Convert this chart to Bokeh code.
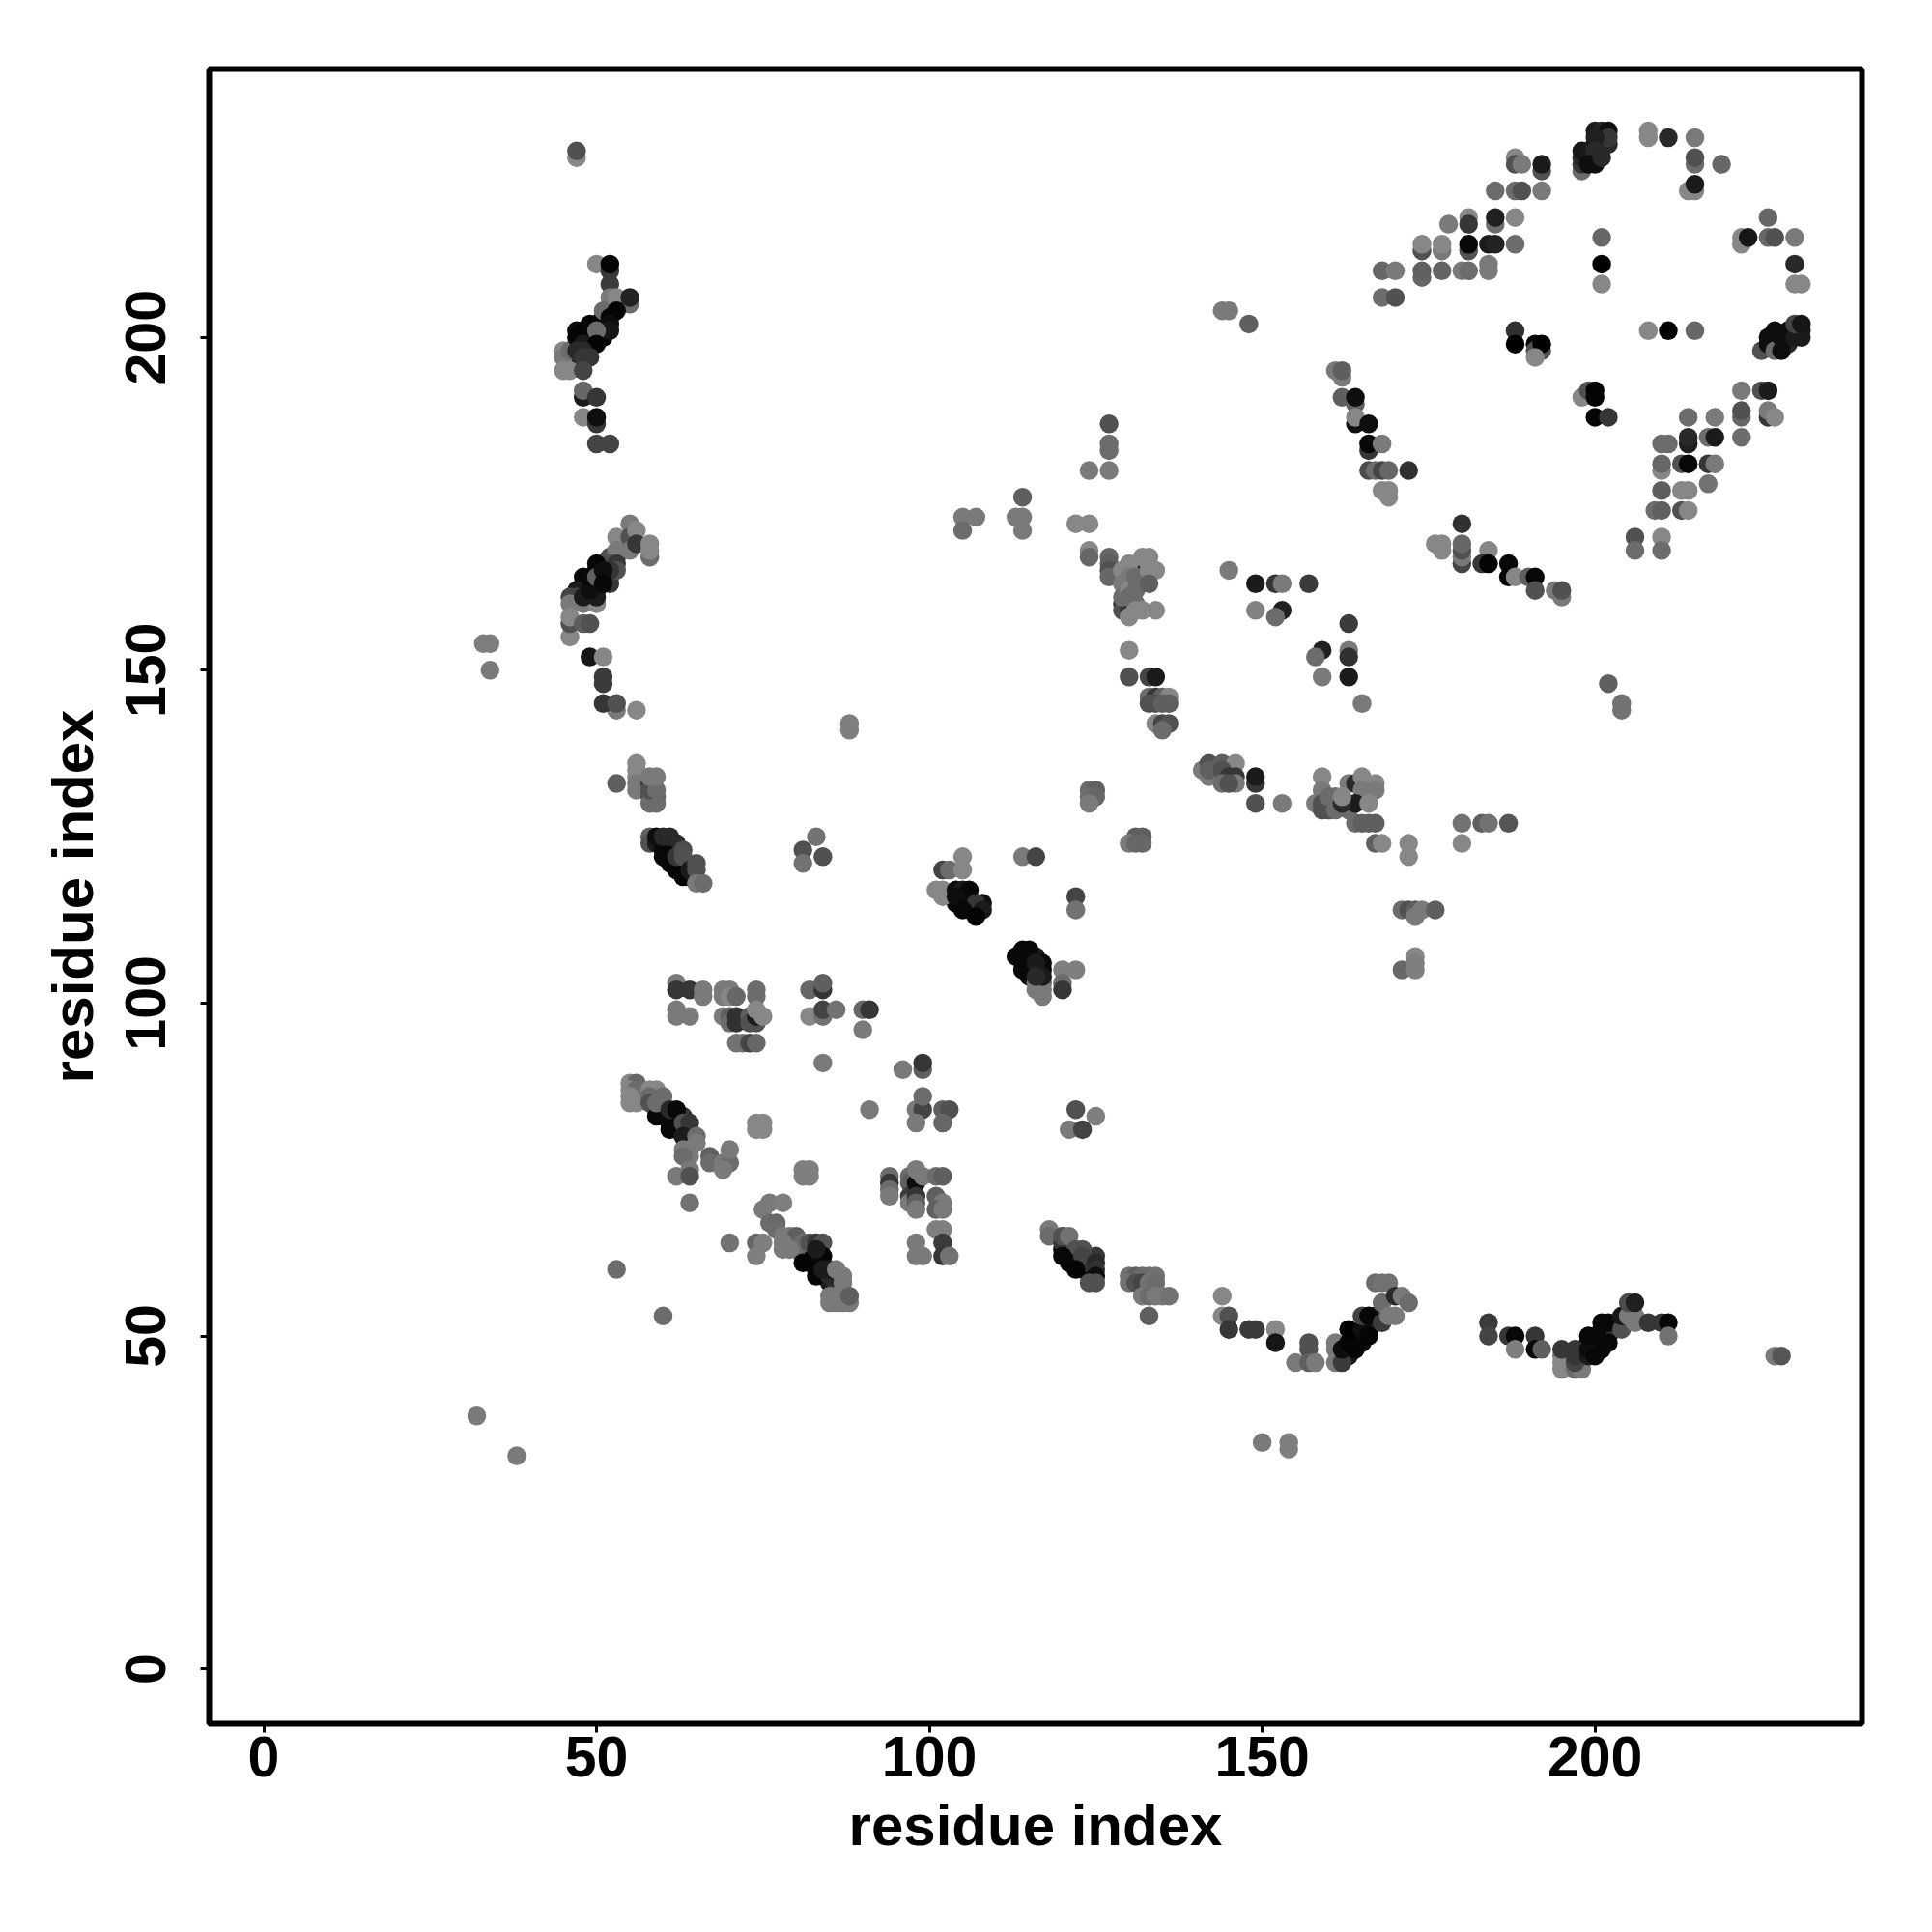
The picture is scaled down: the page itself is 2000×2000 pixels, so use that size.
from bokeh.plotting import figure
from bokeh.models import ColumnDataSource, FixedTicker, Range1d
from bokeh.embed import file_html
from bokeh.resources import INLINE

# each entry: residue i, residue j, shade (0 black .. 0.5 mid grey)
stray = [(47,227,.5),(47,228,.3),(32,38,.45),(38,32,.45),(33,154,.47),(34,154,.47),(34,150,.45),
         (88,142,.47),(88,141,.47),(53,133,.35),(53,60,.4),(60,53,.4),(150,34,.45),(154,34,.47),(154,33,.47),
         (202,148,.35),(204,145,.42),(204,144,.42),(144,204,.45),(145,204,.45),(148,202,.35),
         (227,47,.45),(228,47,.32),(81,123,.3),(81,121,.42),(83,125,.42),(84,122,.3),
         (105,173,.45),(105,171,.4),(107,173,.45),(114,176,.35),(113,173,.45),(114,173,.45),(114,171,.45),
         (122,172,.5),(124,172,.5),(124,180,.45),(127,180,.45),(127,187,.3),(127,184,.4),(127,183,.4),
         (124,168,.5),(124,167,.38),(145,165,.45)]
band_strand = [(47,199,.02),(47,201,.05),(48,200,.02),(48,201,.02),(49,200,.02),(49,199,.1),(49,201,.02),(50,200,.03),(50,202,.05),
               (51,201,.03),(51,202,.03),(51,203,.03),(51,200,.02),(47,197,.1),
               (48,163,.03),(48,162,.05),(48,164,.03),(49,163,.03),(50,162,.03),(50,163,.03),(50,165,.03),(51,164,.03),(51,166,.1),
               (52,164,.1),(52,167,.2),(53,167,.15),(47,162,.1),(49,161,.1),(52,163,.2),
               (60,124,.03),(61,124,.05),(61,123,.02),(61,122,.02),(61,121,.03),(62,121,.02),(63,120,.03),(64,119,.05),(62,123,.2),(62,124,.15)]
band_diag = [(60,84,.03),(60,83,.02),(61,82,.03),(62,82,.02),(62,81,.02),(63,81,.05),(63,83,.2),(59,84,.03),(61,83,.03),(64,80,.1),
             (82,62,.02),(82,61,.03),(83,61,.05),(84,59,.1),(85,58,.1),(86,58,.2),(81,62,.03),(83,60,.02),
             (120,63,.03),(121,62,.03),(122,61,.03),(123,60,.03),(124,60,.03),(121,63,.2),(122,62,.2),(123,61,.2),(124,61,.2),(125,62,.2)]
band_centre = [(105,116,.03),(106,116,.03),(106,115,.03),(105,115,.03),(107,114,.03),(106,114,.05),(104,115,.03),
               (114,107,.03),(114,106,.05),(115,107,.05),(115,106,.03),(115,105,.03),(116,105,.03),(116,107,.1),(117,105,.03),(115,104,.05)]
band_bottom = [(164,50,.05),(165,49,.05),(165,50,.02),(164,49,.03),(163,48,.05),(163,47,.1),(162,47,.1),(166,51,.05),(167,52,.1),(167,53,.15),
               (198,47,.1),(198,48,.1),(199,49,.05),(200,48,.03),(200,49,.03),(201,48,.03),(201,50,.03),(201,51,.03),(202,51,.03),(200,50,.03),(202,50,.03),(203,51,.2)]
band_ring = [(199,227,.08),(200,229,.1),(201,230,.1),(201,229,.1),(202,229,.15),(200,226,.05),
             (229,200,.1),(229,199,.15),(228,199,.05),(226,200,.05),(227,199,.1),(229,201,.05),(230,201,.1),(231,201,.1)]
strand_top = [(50,211,.5),(52,210,.2),(52,211,.02),(52,208,.22),(52,206,.45),(53,206,.5),(53,205,.5),
              (55,205,.4),(55,206,.13),(51,204,.4),(53,204,.02),(52,203,.02),(49,202,.02),(52,202,.05),
              (52,201,.08),(50,201,.4),(45,198,.5),(45,197,.45),(45,195,.5),(46,195,.5),(46,198,.4),
              (47,200,.02),(48,199,.1),(50,199,.02),(48,198,.15),(47,198,.15),(48,197,.2),(49,197,.2),(48,195,.25),
              (48,191,.1),(48,192,.38),(50,191,.2),(48,188,.5),(50,187,.2),(50,188,.05),(50,184,.25),(52,184,.25)]
strand_mid = [(52,167,.3),(53,170,.5),(55,172,.45),(55,170,.3),(55,168,.45),(53,168,.45),(56,171,.5),(56,169,.2),
              (58,167,.4),(58,168,.5),(58,169,.5),(52,166,.3),(53,166,.2),(53,165,.3),(52,165,.2),
              (46,161,.25),(47,161,.25),(48,160,.45),(46,160,.45),(50,160,.5),(48,161,.1),(50,161,.1),(49,162,.05),
              (49,164,.03),(50,166,.02),(50,164,.35),(51,165,.05),(51,163,.03),
              (46,155,.5),(46,157,.3),(46,158,.5),(48,157,.35),(49,157,.3),(49,152,.08),(51,152,.5),
              (51,149,.22),(51,148,.22),(53,144,.45),(51,145,.2),(53,145,.3),(56,144,.5)]
strand_low = [(56,136,.5),(56,135,.5),(56,134,.5),(56,133,.45),(56,132,.45),(58,131,.3),(59,131,.35),(58,130,.4),(59,130,.4),
              (58,133,.2),(58,132,.3),(59,132,.4),(58,134,.45),(59,134,.45),
              (58,125,.35),(58,124,.3),(59,124,.1),(60,123,.03),(60,122,.03),(59,125,.05),(60,125,.15),(61,125,.15),
              (62,120,.02),(63,119,.02),(62,122,.2),(63,123,.28),(63,122,.3),(64,120,.1),(65,120,.3),(65,121,.3),(65,118,.45),(66,118,.4)]
upper_block = [(62,103,.45),(62,102,.2),(64,102,.2),(66,102,.45),(66,101,.45),(69,102,.45),(70,102,.45),(69,101,.45),(70,101,.5),(71,101,.38),
               (74,102,.4),(74,101,.4),(62,99,.45),(62,98,.45),(64,98,.45),(69,98,.45),(70,98,.35),(70,97,.4),(71,98,.18),(71,97,.18),
               (73,98,.35),(73,97,.3),(74,97,.3),(74,98,.1),(75,98,.5),(74,99,.5),
               (71,94,.42),(72,94,.42),(73,94,.25),(74,94,.38),
               (82,102,.38),(84,102,.2),(84,103,.35),(82,98,.5),(84,98,.42),(84,99,.25),(86,99,.42),(90,99,.38),(91,99,.2),(90,96,.45),
               (84,91,.45),(96,90,.45),(99,90,.35),(99,91,.2),(91,84,.45),(98,84,.45),(99,84,.25),(99,86,.4),(102,84,.35),(103,84,.3),(98,82,.45),(102,82,.38)]
diag_one = [(55,88,.5),(56,88,.38),(55,87,.5),(56,87,.4),(55,86,.5),(55,85,.5),(56,85,.5),(58,87,.5),(59,87,.5),(58,86,.4),(60,86,.4),(58,85,.3),
            (59,83,.03),(59,85,.4),(61,84,.15),(61,81,.03),(62,84,.03),(63,82,.3),(64,82,.2),(63,80,.1),(65,80,.4),(65,79,.45),(63,78,.45),(64,78,.45),
            (64,77,.45),(63,77,.4),(67,77,.35),(67,76,.4),(69,76,.45),(70,76,.4),(70,78,.45),(69,75,.45),(62,74,.45),(64,75,.45),(64,74,.3),(64,70,.42),
            (74,82,.5),(75,82,.5),(74,81,.5),(75,81,.5),(81,75,.47),(82,75,.47),(81,74,.47),(82,74,.47)]
diag_two = [(76,70,.45),(78,70,.47),(75,69,.45),(76,67,.4),(77,67,.38),(70,64,.42),(74,64,.38),(75,64,.47),(74,62,.47),
            (77,66,.4),(78,65,.45),(79,65,.45),(80,65,.35),(81,64,.4),(80,63,.4),(79,63,.45),(78,64,.45),(78,63,.45),
            (82,64,.3),(83,64,.2),(84,64,.3),(84,62,.02),(81,61,.02),(83,59,.02),(83,63,.1),(85,59,.15),(85,60,.1),(84,60,.1),
            (86,60,.45),(87,59,.45),(87,58,.45),(85,56,.45),(86,56,.45),(85,55,.45),(86,55,.45),(87,55,.45),(88,55,.45),(88,56,.35)]
side_block = [(94,74,.4),(94,73,.2),(94,72,.4),(94,71,.45),(97,74,.4),(97,73,.35),(97,71,.22),(97,70,.45),(98,73,.05),(98,75,.45),(99,74,.45),
              (98,71,.2),(98,70,.35),(98,69,.45),(101,74,.4),(102,74,.35),(101,71,.35),(102,70,.45),(101,69,.35),(102,69,.45),
              (101,66,.47),(102,66,.47),(102,64,.22),(98,64,.45),(98,62,.45),(99,62,.45),(102,62,.2),(103,62,.42),
              (122,84,.3),(125,83,.47),(121,81,.45),(123,81,.25)]
centre_low = [(105,122,.5),(102,120,.25),(103,120,.4),(105,120,.5),(101,117,.5),(102,117,.5),(102,116,.5),(104,117,.05),(105,117,.1),(106,117,.03),
              (104,116,.05),(108,115,.05),(107,115,.2),(105,114,.03),(108,114,.1),(107,113,.02),
              (114,122,.45),(116,122,.25),(122,116,.25),(122,114,.42),
              (116,103,.45),(117,103,.4),(116,102,.45),(117,102,.45),(117,101,.45),(114,108,.03),(115,108,.03),(113,107,.03),(114,105,.03),
              (117,106,.03),(116,106,.1),(117,104,.1),(116,104,.15),(120,105,.47),(122,105,.47),(120,103,.4),(120,102,.2),
              (118,66,.45),(118,65,.4),(120,64,.2),(120,65,.3),(121,65,.42),(122,63,.3),(123,63,.3),(120,62,.03),(121,61,.03),(123,62,.25),
              (125,61,.15),(122,60,.02),(125,60,.18),(125,59,.05),(124,58,.3),(125,58,.3)]
centre_mid = [(127,167,.38),(127,166,.35),(127,165,.3),(127,164,.38),(129,160,.2),(129,159,.3),(130,159,.2),(131,160,.4),(132,165,.15),(131,163,.15),
              (129,165,.5),(129,163,.45),(129,161,.4),(130,166,.5),(130,164,.45),(130,162,.5),(130,161,.4),(130,158,.5),(131,164,.4),(131,162,.4),(131,159,.5),
              (132,167,.5),(133,167,.5),(133,165,.5),(134,165,.5),(133,163,.35),(132,159,.5),(134,159,.5),
              (130,153,.5),(130,149,.3),(133,149,.25),(134,149,.1),(133,146,.4),(134,146,.2),(135,146,.35),(136,146,.5),(133,145,.3),(134,145,.3),(135,145,.35),(136,145,.35),
              (134,142,.5),(135,142,.25),(136,142,.3),(135,141,.4),
              (149,163,.1),(152,163,.2),(153,163,.45),(157,163,.22),(149,159,.48),(153,159,.12),(152,158,.4),(163,157,.22),(159,153,.12),(163,153,.45),(158,152,.4),(163,152,.18),(159,149,.45),(163,149,.1),(165,145,.45)]
centre_pair = [(124,132,.4),(125,132,.35),(124,131,.4),(125,131,.38),(124,130,.45),(131,125,.35),(132,125,.35),(130,124,.45),(131,124,.38),(132,124,.38),
               (141,135,.45),(142,136,.3),(142,134,.45),(142,135,.35),(144,136,.35),(146,136,.5),(144,135,.3),(146,134,.2),(145,134,.2),(144,133,.4),(146,133,.45),(145,133,.3),
               (149,133,.2),(149,134,.1),(149,130,.3),(153,130,.45)]
centre_high = [(159,134,.5),(159,132,.45),(158,130,.45),(159,130,.3),(159,129,.3),(160,129,.3),(161,129,.4),(160,131,.4),(161,131,.4),(163,133,.45),(163,129,.4),
               (164,133,.15),(165,134,.5),(167,133,.5),(167,132,.45),(165,132,.45),(164,130,.1),(166,130,.5),(162,130,.15),(162,131,.5),
               (164,127,.4),(165,127,.35),(166,127,.35),(167,127,.35),(167,124,.35),(168,124,.5),(172,124,.5),(172,122,.5),
               (180,127,.42),(183,127,.35),(184,127,.42),(187,127,.32),(180,124,.5),
               (171,114,.4),(172,114,.3),(173,114,.35),(174,114,.45),(176,114,.35),(173,113,.45),(173,107,.5),(171,105,.38),(173,105,.47),(173,106,.47)]
bottom_run = [(130,59,.42),(131,59,.35),(132,59,.4),(133,59,.4),(134,59,.42),(130,58,.42),(131,58,.3),(132,58,.25),(133,58,.42),(134,58,.4),
              (132,56,.45),(133,56,.4),(134,56,.45),(135,56,.45),(136,56,.42),(133,53,.35),(144,56,.5),(144,53,.5),(145,53,.3),(145,51,.2),(148,51,.22),(149,51,.22),
              (152,51,.5),(152,49,.08),(157,49,.3),(157,48,.3),(155,46,.45),(157,46,.35),(158,46,.45),(161,49,.45),(161,48,.45),(161,46,.45),(162,46,.22),(162,48,.05),
              (164,48,.02),(163,49,.02),(163,51,.0),(165,51,.05),(166,50,.02),(165,53,.25),(166,53,.03),(168,52,.22),(167,58,.4),(168,58,.42),(169,58,.42),
              (168,55,.4),(170,56,.15),(171,56,.45),(172,55,.4),(169,53,.45),(170,53,.45)]
bottom_right = [(184,52,.22),(184,50,.25),(187,50,.2),(188,50,.03),(191,50,.2),(188,48,.47),(191,48,.03),(192,48,.35),(195,47,.45),(195,46,.5),(195,45,.5),(197,45,.4),(198,45,.45),
                (195,48,.2),(197,46,.25),(197,47,.2),(197,48,.2),(199,47,.1),(199,48,.05),(200,47,.03),(199,50,.03),(202,49,.03),(201,52,.03),(202,52,.03),(204,51,.3),(204,53,.08),
                (205,53,.45),(206,53,.45),(206,52,.45),(205,55,.28),(206,55,.12),(208,52,.2),(210,52,.2),(211,52,.03),(211,50,.42)]
ring_top = [(200,231,.1),(201,231,.13),(202,231,.05),(202,230,.2),(200,230,.12),(198,225,.4),(198,226,.2),(198,227,.15),(198,228,.08),(199,228,.1),(200,228,.15),(199,226,.05),(201,227,.15),
            (208,231,.5),(208,230,.5),(211,230,.15),(215,230,.45),(215,226,.4),(215,227,.3),(219,226,.38),(214,222,.5),(215,222,.5),(215,223,.1),
            (188,227,.5),(188,226,.3),(189,226,.45),(192,225,.3),(192,226,.1),(185,222,.4),(188,222,.4),(189,222,.3),(192,222,.45),
            (181,218,.5),(185,217,.4),(185,218,.12),(188,218,.5),(178,217,.45),(181,217,.2),(174,213,.3),(177,213,.45),(181,213,.3),(174,214,.5),(177,214,.5),(181,214,.03),(184,214,.1),(185,214,.13),(188,214,.4),
            (168,210,.38),(170,210,.45),(174,209,.38),(174,210,.35),(177,210,.37),(180,210,.45),(181,210,.4),(184,210,.45),(184,211,.45),(168,206,.4),(170,206,.3),
            (201,215,.38),(201,211,.0),(201,208,.5)]
ring_right = [(226,218,.38),(222,215,.5),(222,214,.5),(223,215,.08),(226,215,.38),(227,215,.3),(230,215,.45),(230,211,.15),(230,208,.5),(231,208,.5),
              (225,198,.3),(226,199,.05),(227,198,.4),(228,198,.05),(227,201,.05),(228,200,.05),(230,200,.1),(231,200,.1),(230,202,.25),(231,202,.08),
              (208,201,.5),(211,201,.0),(215,201,.38),(188,201,.18),(188,199,.0),(191,199,.03),(192,198,.3),(191,198,.3),(192,199,.0),(191,197,.5),
              (198,191,.5),(199,192,.3),(200,192,.02),(200,191,.02),(200,188,.02),(202,188,.2),
              (222,192,.45),(225,192,.3),(226,192,.1),(222,188,.38),(222,189,.3),(226,188,.2),(226,189,.45),(227,188,.5),(222,185,.4)]
ring_inner = [(214,188,.4),(218,188,.45),(214,184,.12),(214,185,.15),(217,185,.4),(218,185,.1),(210,184,.4),(211,184,.4),(210,180,.5),(210,181,.38),(213,181,.3),(214,181,.03),(217,181,.2),(218,181,.45),
              (217,178,.42),(210,177,.35),(213,177,.5),(214,177,.5),(209,174,.4),(210,174,.35),(213,174,.3),(214,174,.5),(206,170,.3),(210,170,.5),(206,168,.4),(210,168,.4)]
ring_left = [(161,195,.45),(162,194,.45),(162,195,.35),(162,191,.35),(164,190,.35),(164,191,.05),(164,187,.05),(164,188,.5),(166,187,.05),(166,183,.2),(166,184,.03),(168,184,.45),
             (166,180,.28),(167,180,.4),(168,180,.25),(169,180,.38),(172,180,.18),(168,177,.5),(169,177,.5),(169,176,.5),
             (180,172,.18),(176,169,.5),(177,169,.5),(177,168,.5),(180,166,.25),(180,167,.45),(180,168,.3),(180,169,.38),(184,168,.5),(183,166,.2),(184,166,.02),(187,166,.03),
             (187,164,.02),(188,164,.5),(190,164,.35),(191,164,.03),(191,162,.3),(194,162,.45),(195,161,.45),(195,162,.3)]

tick_values = [0, 50, 100, 150, 200]
axis_title = "residue index"

groups = [stray, band_strand, band_diag, band_centre, band_bottom, band_ring,
          strand_top, strand_mid, strand_low, upper_block, diag_one, diag_two, side_block,
          centre_low, centre_mid, centre_pair, centre_high, bottom_run, bottom_right,
          ring_top, ring_right, ring_inner, ring_left]
pts = [pt for g in groups for pt in g]


def grey(s):
    v = min(255, int(round(s * 1.06 * 255)))
    return "#%02x%02x%02x" % (v, v, v)


src = ColumnDataSource(dict(x=[q[0] for q in pts], y=[q[1] for q in pts], color=[grey(q[2]) for q in pts]))

p = figure(width=1990, height=1990, output_backend="svg", toolbar_location=None,
           x_range=Range1d(-8.2, 240.1), y_range=Range1d(-8.25, 240.3),
           min_border_left=216, min_border_right=63, min_border_top=71, min_border_bottom=206)
p.frame_width = 1711
p.frame_height = 1713
p.grid.visible = False
p.background_fill_color = "white"
p.outline_line_color = "black"
p.outline_line_width = 6

p.scatter("x", "y", source=src, size=19.5, color="color", line_color=None, marker="circle")

for ax in (p.xaxis[0], p.yaxis[0]):
    ax.ticker = FixedTicker(ticks=tick_values)
    ax.axis_label = axis_title
    ax.axis_line_color = None
    ax.major_tick_in = 0
    ax.major_tick_out = 9
    ax.major_tick_line_width = 3
    ax.major_tick_line_color = "black"
    ax.minor_tick_line_color = None
    ax.major_label_text_font = "Liberation Sans"
    ax.major_label_text_font_style = "bold"
    ax.major_label_text_font_size = "59px"
    ax.major_label_text_color = "black"
    ax.axis_label_text_font = "Liberation Sans"
    ax.axis_label_text_font_style = "bold"
    ax.axis_label_text_font_size = "60px"
    ax.axis_label_text_color = "black"

p.xaxis[0].major_label_standoff = 4
p.xaxis[0].axis_label_standoff = 14
p.yaxis[0].major_label_orientation = "vertical"
p.yaxis[0].major_label_standoff = 36
p.yaxis[0].axis_label_standoff = 19

open("out.html", "w").write(file_html(p, INLINE))
